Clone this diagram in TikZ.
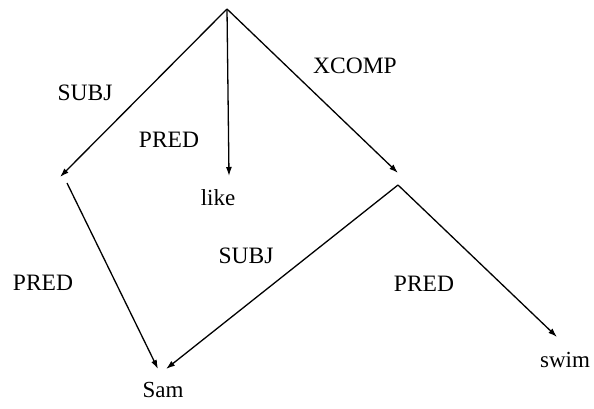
\documentclass[tikz,border=0pt]{standalone}
\usepackage{fontspec}
\setmainfont{Liberation Serif}
\usetikzlibrary{arrows.meta}
\begin{document}
\begin{tikzpicture}[x=1pt,y=-1pt,
  lbl/.style={anchor=base,inner sep=0pt,font=\fontsize{23.5}{28}\selectfont},
  word/.style={anchor=base,inner sep=0pt,font=\fontsize{23}{28}\selectfont},
  edge/.style={line width=1.3pt,-{Latex[length=9pt,width=6pt]}}]
\useasboundingbox (0,0) rectangle (594,408);
% f-structure points
\coordinate (root) at (227,9);
\coordinate (subjf) at (60,177);
\coordinate (subjs) at (67,183);
\coordinate (xcompf) at (398,173);
\coordinate (xcomps) at (398,185);
\coordinate (liketip) at (229,176);
\coordinate (samtipA) at (158,369);
\coordinate (samtipB) at (166,369);
\coordinate (swimtip) at (557,337);
% words
\node[word] (like) at (218,205) {like};
\node[word] (sam) at (163,397) {Sam};
\node[word] (swim) at (565,367) {swim};
% labels
\node[lbl] (l1) at (85,100) {SUBJ};
\node[lbl] (l2) at (169,147) {PRED};
\node[lbl] (l3) at (355,73) {XCOMP};
\node[lbl] (l4) at (43,290) {PRED};
\node[lbl] (l5) at (246,263) {SUBJ};
\node[lbl] (l6) at (424,291) {PRED};
% arrows
\draw[edge] (root) -- (subjf);
\draw[edge] (root) -- (liketip);
\draw[edge] (root) -- (xcompf);
\draw[edge] (subjs) -- (samtipA);
\draw[edge] (xcomps) -- (samtipB);
\draw[edge] (xcomps) -- (swimtip);
\end{tikzpicture}
\end{document}
